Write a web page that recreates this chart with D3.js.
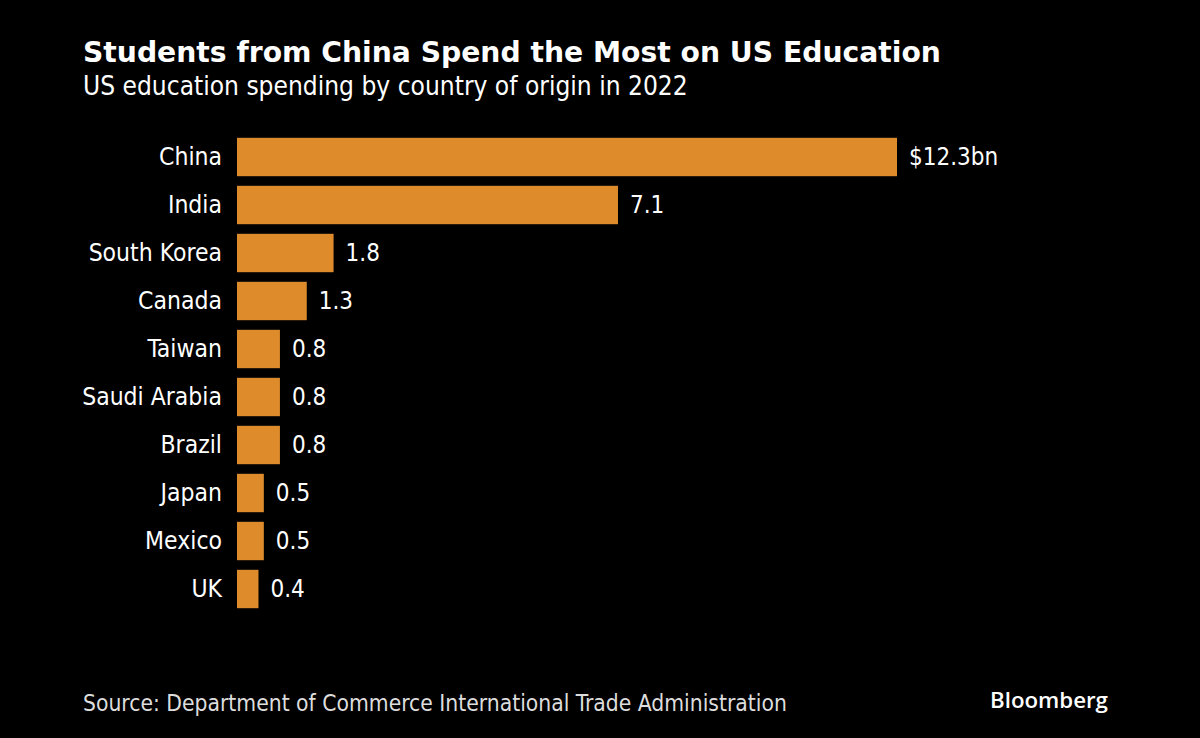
<!DOCTYPE html>
<html>
<head>
<meta charset="utf-8">
<script src="https://cdn.jsdelivr.net/npm/d3@7"></script>
<style>
  html, body { margin: 0; padding: 0; background: #000; }
  svg { display: block; }
</style>
</head>
<body>
<svg id="chart" width="1200" height="738"></svg>
<script>
const categories = ["China", "India", "South Korea", "Canada", "Taiwan", "Saudi Arabia", "Brazil", "Japan", "Mexico", "UK"];
const values = [12.3, 7.1, 1.8, 1.3, 0.8, 0.8, 0.8, 0.5, 0.5, 0.4];
const valueLabels = ["$12.3bn", "7.1", "1.8", "1.3", "0.8", "0.8", "0.8", "0.5", "0.5", "0.4"];
const titleText = "Students from China Spend the Most on US Education";
const subtitleText = "US education spending by country of origin in 2022";
const sourceText = "Source: Department of Commerce International Trade Administration";
const brandText = "Bloomberg";

const svg = d3.select("#chart");
svg.append("rect").attr("width", 1200).attr("height", 738).attr("fill", "#000");

const condensed = "'DejaVu Sans Condensed', 'DejaVu Sans', sans-serif";

function fit(sel, target) {
  const w = sel.node().getComputedTextLength();
  const fs = parseFloat(sel.attr("font-size"));
  sel.attr("font-size", fs * target / w);
}

const title = svg.append("text")
  .attr("x", 83).attr("y", 62)
  .attr("fill", "#fff")
  .attr("font-family", "'DejaVu Sans', sans-serif")
  .attr("font-weight", "bold")
  .attr("font-size", 26)
  .text(titleText);
fit(title, 858);

const subtitle = svg.append("text")
  .attr("x", 83).attr("y", 95)
  .attr("fill", "#fff")
  .attr("font-family", condensed)
  .attr("font-size", 24)
  .text(subtitleText);
fit(subtitle, 605);

const x = d3.scaleLinear().domain([0, 12.3]).range([237, 897]);
const y = d3.scaleBand().domain(categories).range([133, 613]).paddingInner(0.2).paddingOuter(0.1);

const g = svg.append("g");
g.selectAll("rect.bar")
  .data(values)
  .join("rect")
  .attr("class", "bar")
  .attr("x", x(0))
  .attr("y", (d, i) => y(categories[i]))
  .attr("width", d => x(d) - x(0))
  .attr("height", y.bandwidth())
  .attr("fill", "#de8b2b");

const yAxis = d3.axisLeft(y).tickSize(0).tickPadding(15);
const ax = svg.append("g").attr("transform", `translate(${x(0)},0)`).call(yAxis);
ax.select(".domain").remove();
ax.selectAll("text")
  .attr("fill", "#fff")
  .attr("font-family", condensed)
  .attr("font-size", 24.5);

g.selectAll("text.val")
  .data(values)
  .join("text")
  .attr("class", "val")
  .attr("x", d => x(d) + 12)
  .attr("y", (d, i) => y(categories[i]) + y.bandwidth() / 2)
  .attr("dy", "0.35em")
  .attr("fill", "#fff")
  .attr("font-family", condensed)
  .attr("font-size", 24)
  .text((d, i) => valueLabels[i]);

const source = svg.append("text")
  .attr("x", 83).attr("y", 711)
  .attr("fill", "#ddd")
  .attr("font-family", condensed)
  .attr("font-size", 21)
  .text(sourceText);
fit(source, 704);

const brand = svg.append("text")
  .attr("x", 990).attr("y", 708)
  .attr("fill", "#fff")
  .attr("font-family", "'Open Sans', sans-serif")
  .attr("font-weight", 600)
  .attr("font-size", 22)
  .text(brandText);
fit(brand, 118);
</script>
</body>
</html>
